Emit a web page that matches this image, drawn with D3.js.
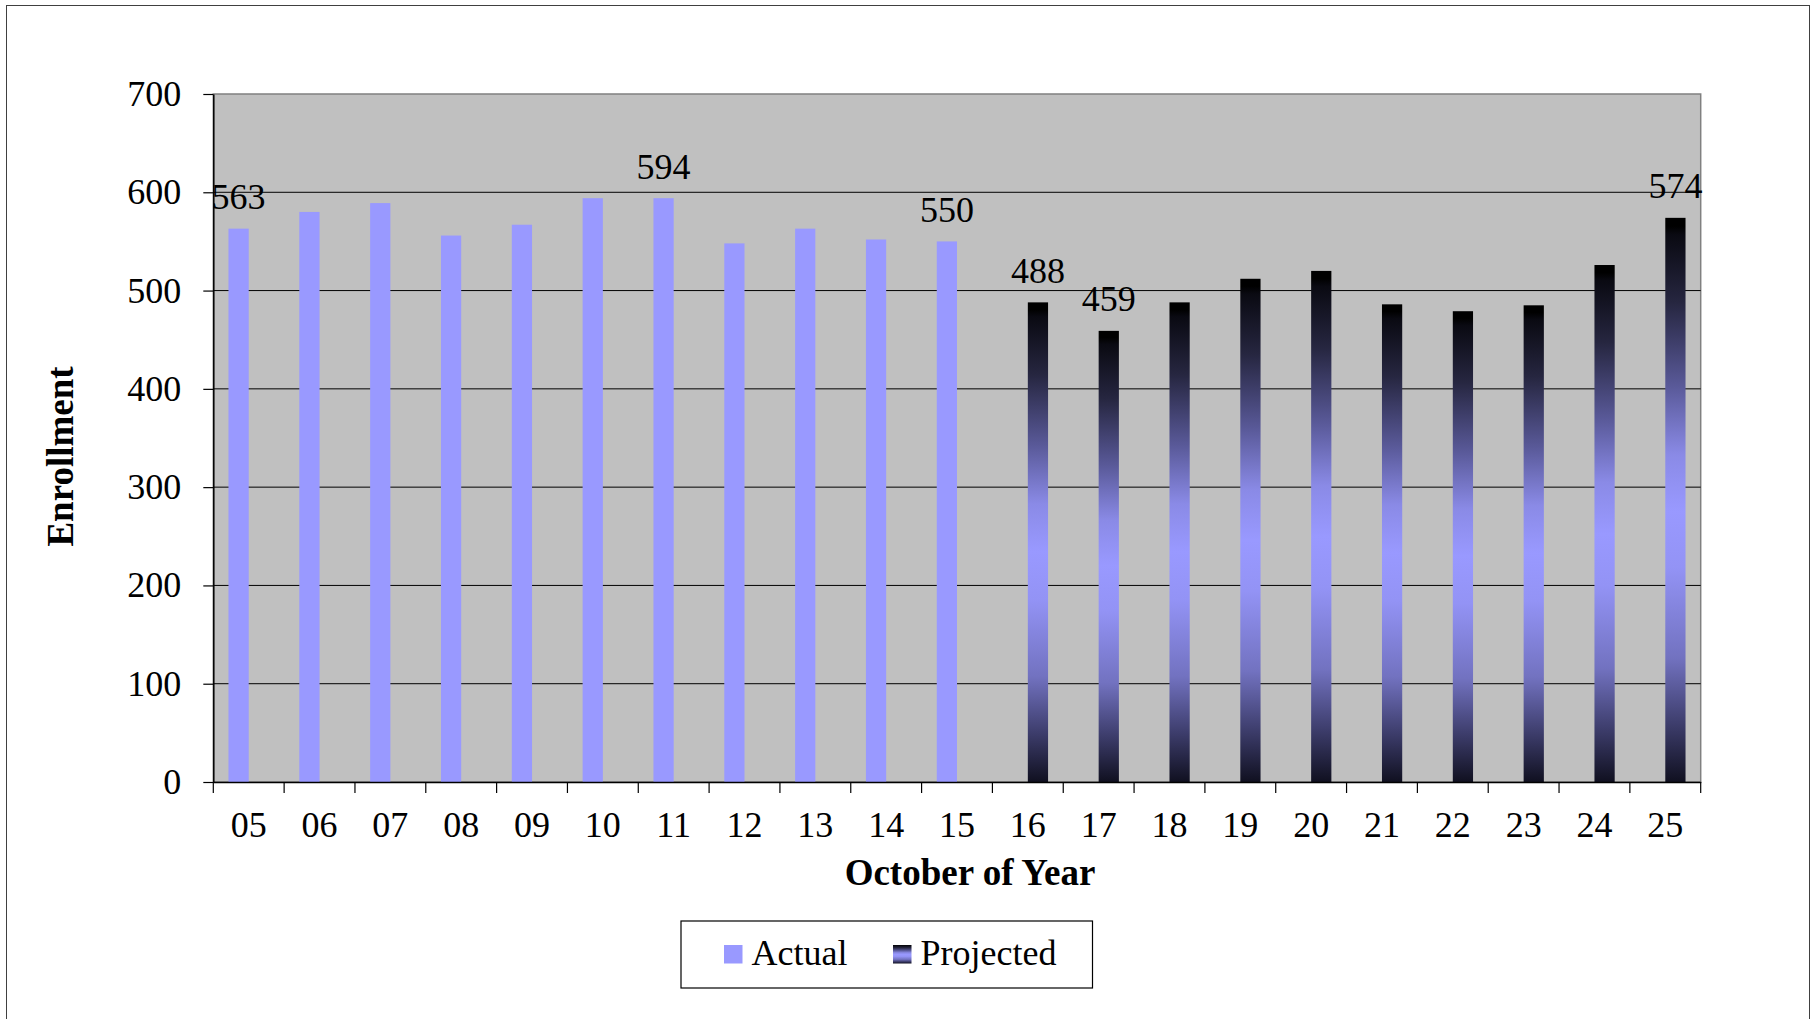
<!DOCTYPE html>
<html>
<head>
<meta charset="utf-8">
<script src="https://cdn.jsdelivr.net/npm/d3@7"></script>
<style>
  body { margin: 0; background: #fff; }
  svg { display: block; font-family: "Liberation Serif", "Times New Roman", serif; }
  .tick text { font-size: 36px; fill: #000; }
</style>
</head>
<body>
<svg id="chart" width="1813" height="1019"></svg>
<script>
// data
const years = ["05","06","07","08","09","10","11","12","13","14","15",
               "16","17","18","19","20","21","22","23","24","25"];
const actualYears = ["05","06","07","08","09","10","11","12","13","14","15"];
const actualValues = [563, 580, 589, 556, 567, 594, 594, 548, 563, 552, 550];
const projectedYears = ["16","17","18","19","20","21","22","23","24","25"];
const projectedValues = [488, 459, 488, 512, 520, 486, 479, 485, 526, 574];
const seriesNames = ["Actual", "Projected"];
const yTicks = [0, 100, 200, 300, 400, 500, 600, 700];
const labelledYears = ["05", "11", "15", "16", "17", "25"];

const rows = actualYears.map((yr, i) => ({year: yr, series: "Actual", value: actualValues[i]}))
  .concat(projectedYears.map((yr, i) => ({year: yr, series: "Projected", value: projectedValues[i]})));

const svg = d3.select("#chart");
const plotLeft = 213.3, plotRight = 1700.7, plotTop = 94, plotBottom = 782;

// outer chart frame (bottom edge falls off the picture)
svg.append("rect")
   .attr("x", 6.5).attr("y", 5.5)
   .attr("width", 1803).attr("height", 1040)
   .attr("fill", "#fff").attr("stroke", "#404040").attr("stroke-width", 1);

// projected bars: dark top, light middle, dark bottom
const defs = svg.append("defs");
const grad = defs.append("linearGradient")
   .attr("id", "projGrad")
   .attr("x1", 0).attr("y1", 0).attr("x2", 0).attr("y2", 1);
[["0", "#000000"], ["0.015", "#000000"], ["0.03", "#0a0a12"], ["0.15", "#262640"],
 ["0.3", "#5a5a9a"], ["0.42", "#8a8ae6"], ["0.52", "#9999ff"], ["0.62", "#9393f5"],
 ["0.78", "#7272c0"], ["0.9", "#3c3c6a"], ["1", "#101020"]]
  .forEach(s => grad.append("stop").attr("offset", s[0]).attr("stop-color", s[1]));

const x0 = d3.scaleBand().domain(years).range([plotLeft, plotRight]).padding(0);
const x1 = d3.scaleBand().domain(seriesNames).range([0, x0.bandwidth()])
   .paddingInner(0).paddingOuter(0.75);
const y = d3.scaleLinear().domain([0, 700]).range([plotBottom, plotTop]);
const fill = {Actual: "#9999ff", Projected: "url(#projGrad)"};

// plot area
svg.append("rect")
   .attr("x", plotLeft).attr("y", plotTop)
   .attr("width", plotRight - plotLeft).attr("height", plotBottom - plotTop)
   .attr("fill", "#c0c0c0").attr("stroke", "#808080").attr("stroke-width", 1.5);

// gridlines
svg.append("g").selectAll("line")
   .data(yTicks.filter(t => t > 0 && t < 700))
   .enter().append("line")
   .attr("x1", plotLeft).attr("x2", plotRight)
   .attr("y1", d => y(d)).attr("y2", d => y(d))
   .attr("stroke", "#000").attr("stroke-width", 1);

// bars
svg.append("g").selectAll("rect")
   .data(rows)
   .enter().append("rect")
   .attr("x", d => x0(d.year) + x1(d.series))
   .attr("y", d => y(d.value))
   .attr("width", x1.bandwidth())
   .attr("height", d => y(0) - y(d.value))
   .attr("fill", d => fill[d.series]);

// value labels
svg.append("g").selectAll("text")
   .data(rows.filter(d => labelledYears.includes(d.year)))
   .enter().append("text")
   .attr("x", d => x0(d.year) + x1(d.series) + x1.bandwidth() / 2)
   .attr("y", d => y(d.value) - 19.5)
   .attr("text-anchor", "middle")
   .attr("font-size", "36px")
   .text(d => d.value);

// y axis
const yAxis = svg.append("g")
   .attr("transform", "translate(" + plotLeft + ",0)")
   .call(d3.axisLeft(y).tickValues(yTicks).tickSize(10).tickSizeOuter(0).tickPadding(22))
   .attr("font-family", null).attr("font-size", null);
yAxis.select(".domain").attr("stroke", "#000").attr("stroke-width", 1.5);
yAxis.selectAll(".tick line").attr("stroke", "#000").attr("stroke-width", 1.2);

// x axis: labels centred on categories, ticks on category boundaries
const xAxis = svg.append("g")
   .attr("transform", "translate(0," + plotBottom + ")")
   .call(d3.axisBottom(x0).tickSize(0).tickSizeOuter(0))
   .attr("font-family", null).attr("font-size", null);
xAxis.select(".domain").attr("stroke", "#000").attr("stroke-width", 1.5);
xAxis.selectAll(".tick text")
   .attr("y", 55.3).attr("dy", 0);
xAxis.selectAll(".boundary")
   .data(years.map(d => x0(d)).concat([x0.range()[1]]))
   .enter().append("line")
   .attr("class", "boundary")
   .attr("x1", d => d).attr("x2", d => d)
   .attr("y1", 0).attr("y2", 11)
   .attr("stroke", "#000").attr("stroke-width", 1.2);

// axis titles
svg.append("text")
   .attr("x", 970).attr("y", 885)
   .attr("text-anchor", "middle")
   .attr("font-size", "37px").attr("font-weight", "bold")
   .text("October of Year");

svg.append("text")
   .attr("transform", "translate(73,456.5) rotate(-90)")
   .attr("text-anchor", "middle")
   .attr("font-size", "37px").attr("font-weight", "bold")
   .text("Enrollment");

// legend
const legend = svg.append("g");
legend.append("rect")
   .attr("x", 681).attr("y", 921)
   .attr("width", 411.5).attr("height", 67)
   .attr("fill", "#fff").attr("stroke", "#000").attr("stroke-width", 1.2);
const legendItems = [{name: "Actual", sx: 724, tx: 751.5}, {name: "Projected", sx: 893, tx: 920.5}];
legendItems.forEach(it => {
  legend.append("rect")
     .attr("x", it.sx).attr("y", 945)
     .attr("width", 18.5).attr("height", 18.5)
     .attr("fill", fill[it.name]);
  legend.append("text")
     .attr("x", it.tx).attr("y", 965)
     .attr("font-size", "36px")
     .text(it.name);
});
</script>
</body>
</html>
